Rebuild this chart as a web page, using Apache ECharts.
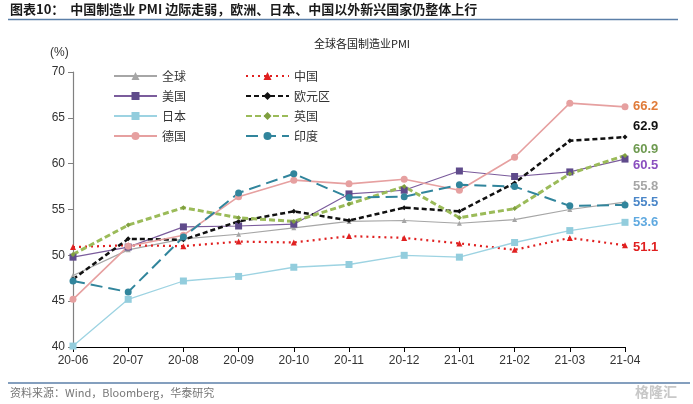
<!DOCTYPE html>
<html><head><meta charset="utf-8">
<script src="https://cdn.jsdelivr.net/npm/echarts@6/dist/echarts.min.js"></script>
<style>html,body{margin:0;padding:0;background:#fff}#c{width:693px;height:404px}</style>
</head><body><div id="c"></div>
<script>
const categories = ['20-06','20-07','20-08','20-09','20-10','20-11','20-12','21-01','21-02','21-03','21-04'];
const globalPMI = [47.8, 50.6, 51.8, 52.3, 53.0, 53.7, 53.8, 53.5, 53.9, 55.0, 55.8];
const chinaPMI  = [50.9, 51.1, 51.0, 51.5, 51.4, 52.1, 51.9, 51.3, 50.6, 51.9, 51.1];
const usPMI     = [49.8, 50.9, 53.1, 53.2, 53.4, 56.7, 57.1, 59.2, 58.6, 59.1, 60.5];
const euroPMI   = [47.4, 51.8, 51.7, 53.7, 54.8, 53.8, 55.2, 54.8, 57.9, 62.5, 62.9];
const japanPMI  = [40.1, 45.2, 47.2, 47.7, 48.7, 49.0, 50.0, 49.8, 51.4, 52.7, 53.6];
const ukPMI     = [50.1, 53.3, 55.2, 54.1, 53.7, 55.6, 57.5, 54.1, 55.1, 58.9, 60.9];
const germanyPMI= [45.2, 51.0, 52.2, 56.4, 58.2, 57.8, 58.3, 57.1, 60.7, 66.6, 66.2];
const indiaPMI  = [47.2, 46.0, 52.0, 56.8, 58.9, 56.3, 56.4, 57.7, 57.5, 55.4, 55.5];
const yTicks = [40, 45, 50, 55, 60, 65, 70];

const numFont = '"Liberation Sans Narrow","Liberation Sans",Arial,sans-serif';
const cjk = '"Noto Sans CJK SC",sans-serif';

function mk(name, data, color, lineType, width, symbol, symSize, symColor, labColor, dy) {
  return {
    name, type: 'line', data,
    lineStyle: {color, type: lineType, width},
    itemStyle: {color: symColor},
    symbol, symbolSize: symSize, showSymbol: true,
    emphasis: {disabled: true},
    endLabel: {show: true, formatter: p => p.value.toFixed(1), color: labColor,
      fontFamily: numFont, fontWeight: 'bold', fontSize: 13, distance: 8, offset: [0, dy]},
    z: 3
  };
}

const chart = echarts.init(document.getElementById('c'));
chart.setOption({
  animation: false,
  textStyle: {fontFamily: cjk},
  graphic: [
    {type: 'text', left: 10, top: 3, style: {text: '图表10：  中国制造业 PMI 边际走弱，欧洲、日本、中国以外新兴国家仍整体上行', font: 'bold 13px "Noto Sans CJK SC"', fill: '#1a1a1a'}},
    {type: 'line', shape: {x1: 8, y1: 19.5, x2: 678, y2: 19.5}, style: {stroke: '#5B7FA8', lineWidth: 1.5}},
    {type: 'text', x: 362, y: 38, style: {text: '全球各国制造业PMI', font: '11px "Noto Sans CJK SC"', fill: '#222', align: 'center'}},
    {type: 'text', x: 50, y: 47, style: {text: '(%)', font: '12px ' + numFont, fill: '#333'}},
    {type: 'line', shape: {x1: 8, y1: 383, x2: 690, y2: 383}, style: {stroke: '#5B7FA8', lineWidth: 1.5}},
    {type: 'text', x: 10, y: 387, style: {text: '资料来源：Wind，Bloomberg，华泰研究', font: '11px "Noto Sans CJK SC"', fill: '#777'}},
    {type: 'text', x: 635, y: 385, style: {text: '格隆汇', font: 'bold 14px "Noto Sans CJK SC"', fill: '#c8c8c8'}}
  ],
  legend: [
    {left: 108, top: 64, orient: 'vertical', itemWidth: 43, itemHeight: 10, itemGap: 6,
     data: ['全球','美国','日本','德国'], textStyle: {fontSize: 12, color: '#333', fontFamily: cjk, lineHeight: 14}},
    {left: 240, top: 64, orient: 'vertical', itemWidth: 43, itemHeight: 10, itemGap: 6,
     data: ['中国','欧元区','英国','印度'], textStyle: {fontSize: 12, color: '#333', fontFamily: cjk, lineHeight: 14}}
  ],
  grid: {left: 73, right: 68, top: 72, bottom: 57},
  xAxis: {
    type: 'category', data: categories, boundaryGap: false,
    axisLine: {lineStyle: {color: '#000', width: 1.2}},
    axisTick: {show: true, alignWithLabel: true, length: 5, lineStyle: {color: '#000'}},
    axisLabel: {color: '#333', fontSize: 12, fontFamily: numFont, margin: 8}
  },
  yAxis: {
    type: 'value', min: 40, max: 70, interval: 5,
    axisLine: {show: true, lineStyle: {color: '#808080', width: 1.2}},
    axisTick: {show: true, length: 5, lineStyle: {color: '#808080'}},
    splitLine: {show: false},
    axisLabel: {color: '#333', fontSize: 12, fontFamily: numFont, margin: 8,
      formatter: v => yTicks.includes(v) ? String(v) : ''}
  },
  series: [
    mk('全球', globalPMI, '#A6A6A6', 'solid', 1.2, 'triangle', 5, '#A6A6A6', '#A6A6A6', -16),
    mk('中国', chinaPMI, '#E02020', [2, 4], 2.2, 'triangle', 6, '#E02020', '#E02020', 2),
    mk('美国', usPMI, '#7B5C9C', 'solid', 1.2, 'rect', 7, '#5F4B8B', '#8A4FBF', 6),
    mk('欧元区', euroPMI, '#111', [5, 3], 2.5, 'diamond', 5, '#111', '#111', -11),
    mk('日本', japanPMI, '#9DD3E2', 'solid', 1.3, 'rect', 7, '#93CDDD', '#5FA9E0', 0),
    mk('英国', ukPMI, '#9BBB59', [6, 3], 3, 'diamond', 5, '#7F9F3F', '#6E9A50', -6),
    mk('德国', germanyPMI, '#E6A0A0', 'solid', 1.6, 'circle', 7, '#E6A0A0', '#E07B39', 0),
    mk('印度', indiaPMI, '#31859C', [12, 6], 2, 'circle', 7, '#31859C', '#4A86C8', -2)
  ]
});
</script></body></html>
